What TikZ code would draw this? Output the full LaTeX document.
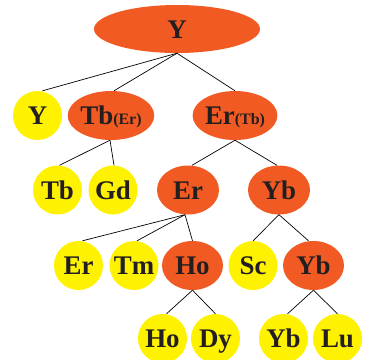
\documentclass[tikz,border=0pt]{standalone}
\usepackage{fontspec}
\setmainfont{Liberation Serif}
\usetikzlibrary{shapes.geometric}
\definecolor{leafyellow}{HTML}{FFF200}
\definecolor{splitorange}{HTML}{F15A22}
\definecolor{labelink}{HTML}{231F20}
\tikzset{
  leaf/.style={circle,fill=leafyellow,inner sep=0pt,minimum size=49bp},
  split/.style={ellipse,fill=splitorange,inner sep=0pt,minimum height=49bp,minimum width=62bp},
  every node/.style={text=labelink,font=\fontsize{27}{32}\selectfont\bfseries,
    text height=18bp,text depth=0bp},
  branch/.style={black,line width=0.7pt}
}
\newcommand{\sidelabel}[1]{{\fontsize{16}{19}\selectfont(#1)}}
\begin{document}
\begin{tikzpicture}[x=1bp,y=-1bp]
\useasboundingbox (0,0) rectangle (365,360);

% splitting steps
\node[split,minimum width=166bp,minimum height=48bp] (root) at (177,29) {Y};
\node[split,minimum width=80bp] (tber) at (111,115.5) {Tb\sidelabel{Er}};
\node[split,minimum width=80bp] (ertb) at (235,115.5) {Er\sidelabel{Tb}};
\node[split] (er) at (188,190) {Er};
\node[split] (yb) at (279,190) {Yb};
\node[split,minimum width=61bp] (ho) at (192.5,265.5) {Ho};
\node[split,minimum width=61bp] (ybsplit) at (313.5,265.5) {Yb};

% pure elements
\node[leaf] (y) at (37.5,115.5) {Y};
\node[leaf] (tb) at (57.5,190) {Tb};
\node[leaf] (gd) at (113,190) {Gd};
\node[leaf] (erpure) at (78.5,265.5) {Er};
\node[leaf] (tm) at (134,265.5) {Tm};
\node[leaf] (sc) at (253,265.5) {Sc};
\node[leaf] (hopure) at (162.5,338.5) {Ho};
\node[leaf] (dy) at (215.5,338.5) {Dy};
\node[leaf] (ybpure) at (283.5,338.5) {Yb};
\node[leaf] (lu) at (337.5,338.5) {Lu};

\draw[branch] (root.south) -- ([xshift=5bp]y.north);
\draw[branch] (root.south) -- ([xshift=3bp]tber.north);
\draw[branch] (root.south) -- (ertb.north);
\draw[branch] ([xshift=-1bp]tber.south) -- ([xshift=2bp]tb.north);
\draw[branch] ([xshift=-1bp]tber.south) -- ([xshift=1bp]gd.north);
\draw[branch] (ertb.south) -- ([xshift=4bp]er.north);
\draw[branch] (ertb.south) -- ([xshift=-2bp]yb.north);
\draw[branch] ([xshift=-3bp]er.south) -- ([xshift=4bp]erpure.north);
\draw[branch] ([xshift=-3bp]er.south) -- ([xshift=3bp]tm.north);
\draw[branch] ([xshift=-3bp]er.south) -- (ho.north);
\draw[branch] (yb.south) -- (sc.north);
\draw[branch] (yb.south) -- ([xshift=-5bp]ybsplit.north);
\draw[branch] (ho.south) -- ([xshift=4bp]hopure.north);
\draw[branch] (ho.south) -- (dy.north);
\draw[branch] (ybsplit.south) -- ([xshift=4bp]ybpure.north);
\draw[branch] (ybsplit.south) -- (lu.north);
\end{tikzpicture}
\end{document}
